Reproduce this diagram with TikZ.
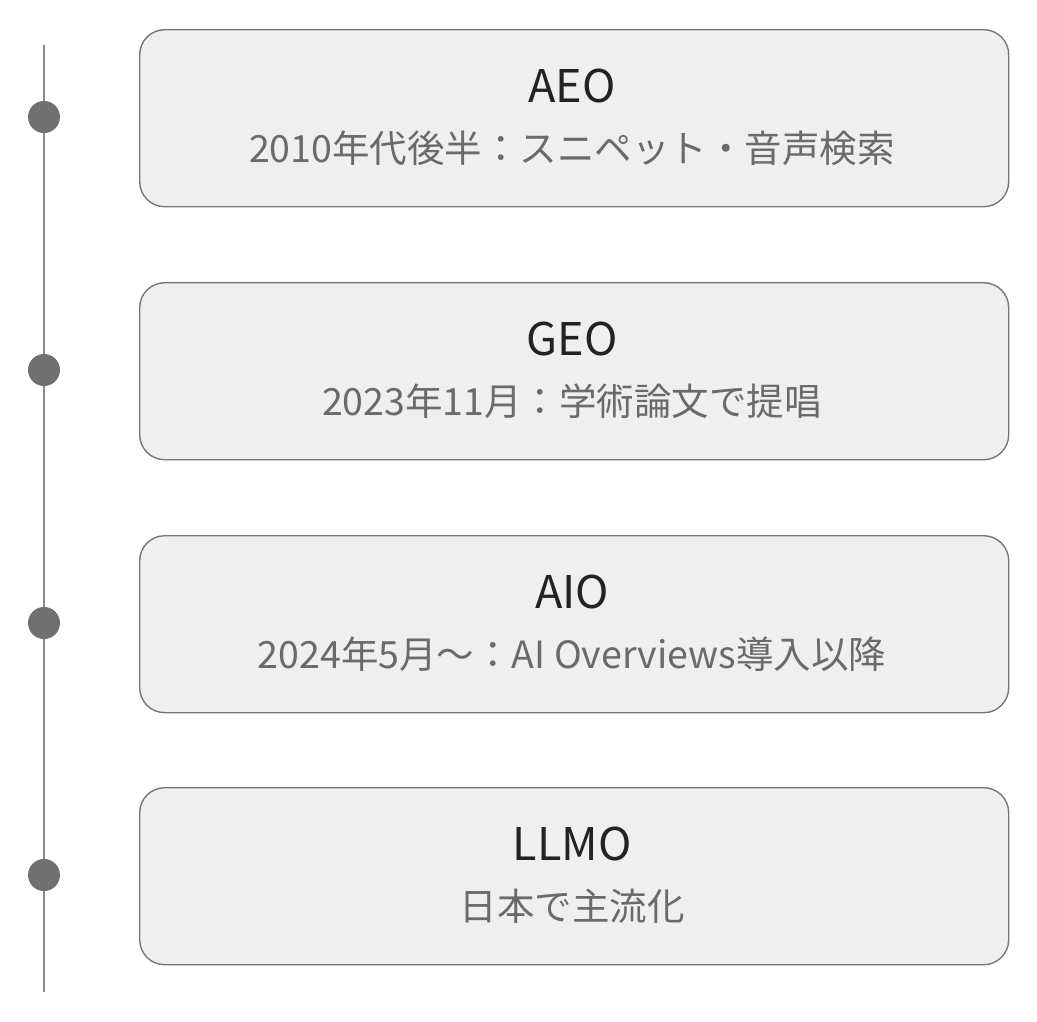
\documentclass[tikz,border=0pt]{standalone}
\usepackage{fontspec}
\setmainfont{Noto Sans CJK JP}
\definecolor{boxfill}{HTML}{EFEFEF}
\definecolor{boxline}{HTML}{777777}
\definecolor{tline}{HTML}{8A8A8A}
\definecolor{dotc}{HTML}{707070}
\definecolor{titlec}{HTML}{222222}
\definecolor{subc}{HTML}{6A6A6A}
\tikzset{
  card/.style={draw=boxline, line width=1.4pt, fill=boxfill, rounded corners=25pt,
    minimum width=869pt, minimum height=177pt, inner sep=0pt},
  dotnode/.style={circle, fill=dotc, minimum size=32pt, inner sep=0pt},
  ttl/.style={anchor=base, text=titlec, font=\fontsize{45}{50}\selectfont, inner sep=0pt},
  sub/.style={anchor=base, text=subc, font=\fontsize{37.5}{42}\selectfont, inner sep=0pt},
}
\begin{document}
\begin{tikzpicture}[x=1pt,y=-1pt]
\useasboundingbox (0,0) rectangle (1037,1021);
\coordinate (ltop) at (44,45);
\coordinate (lbot) at (44,992);
\draw[tline, line width=2pt] (ltop) -- (lbot);
\foreach \i/\y/\t/\s in {1/29/AEO/2010年代後半：スニペット・音声検索,
                         2/282/GEO/2023年11月：学術論文で提唱,
                         3/535/AIO/2024年5月～：AI Overviews導入以降,
                         4/787/LLMO/日本で主流化}{
  \node[dotnode] (d\i) at (44,\y+88) {};
  \node[card, anchor=north west] (b\i) at (139,\y) {};
  \node[ttl] (t\i) at (572,\y+73) {\t};
  \node[sub] (s\i) at (572,\y+133) {\s};
}
\end{tikzpicture}
\end{document}
